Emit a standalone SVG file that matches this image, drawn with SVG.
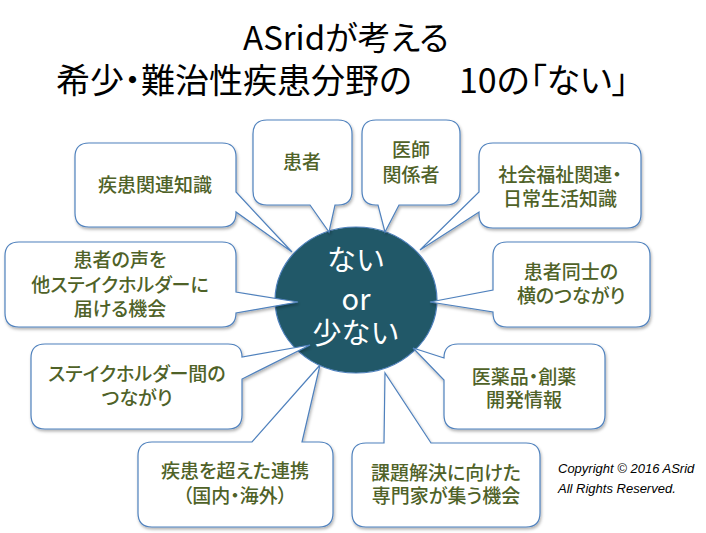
<svg xmlns="http://www.w3.org/2000/svg" width="706" height="533" viewBox="0 0 706 533">
<defs>
<filter id="sh" x="-10%" y="-10%" width="130%" height="130%">
<feDropShadow dx="1" dy="2" stdDeviation="1.5" flood-color="#000" flood-opacity="0.3"/>
</filter>
<style>
.title{font-family:"Noto Sans CJK JP","Noto Sans",sans-serif;font-size:33px;fill:#000;font-feature-settings:"palt"}
.title2{font-size:34px}
.co{fill:#fff;stroke:#4f81bd;stroke-width:1.2;filter:url(#sh)}
.t{font-family:"Noto Sans CJK JP","Noto Sans",sans-serif;font-size:19px;fill:#4f6228;text-anchor:middle;font-weight:500;font-feature-settings:"palt"}
.ct{font-family:"Noto Sans CJK JP","Noto Sans",sans-serif;font-size:29px;fill:#fff;text-anchor:middle}
.cp{font-family:"Liberation Sans",sans-serif;font-size:13px;font-style:italic;fill:#000}
</style>
</defs>
<rect width="706" height="533" fill="#fff"/>
<g id="title">
<text class="title" x="346" y="50" text-anchor="middle">ASridが考える</text>
<text class="title title2" x="56" y="93">希少・難治性疾患分野の</text>
<text class="title title2" x="459" y="93">10の「ない」</text>
</g>
<g id="center">
<ellipse cx="356" cy="300" rx="81" ry="73" fill="#215868" stroke="#4f81bd" stroke-width="1.2"/>
</g>
<g id="connectors">
<g id="n1"><path class="co" d="M89,143 H222 Q236,143 236,157 V192 L292,252 L236,212 V213 Q236,227 222,227 H89 Q75,227 75,213 V157 Q75,143 89,143 Z"/><text class="t" x="155" y="192">疾患関連知識</text></g>
<g id="n2"><path class="co" d="M267,120 H338 Q352,120 352,134 V191 Q352,205 338,205 H335 L329,232 L310,205 H267 Q253,205 253,191 V134 Q253,120 267,120 Z"/><text class="t" x="302" y="169">患者</text></g>
<g id="n3"><path class="co" d="M376,120 H446 Q460,120 460,134 V191 Q460,205 446,205 H399 L385,232 L378,205 H376 Q362,205 362,191 V134 Q362,120 376,120 Z"/><text class="t" x="411" y="157">医師</text><text class="t" x="411" y="182">関係者</text></g>
<g id="n4"><path class="co" d="M493,143 H627 Q641,143 641,157 V214 Q641,228 627,228 H493 Q479,228 479,214 V212 L420,250 L479,192 V157 Q479,143 493,143 Z"/><text class="t" x="560" y="182">社会福祉関連・</text><text class="t" x="560" y="206">日常生活知識</text></g>
<g id="n5"><path class="co" d="M19,242 H222 Q236,242 236,256 V292 L298,302 L236,313 Q236,327 222,327 H19 Q5,327 5,313 V256 Q5,242 19,242 Z"/><text class="t" x="120" y="267">患者の声を</text><text class="t" x="120" y="292">他ステイクホルダーに</text><text class="t" x="120" y="316">届ける機会</text></g>
<g id="n6"><path class="co" d="M507,242 H636 Q650,242 650,256 V313 Q650,327 636,327 H507 Q493,327 493,313 V312 L430,302 L493,290 V256 Q493,242 507,242 Z"/><text class="t" x="571" y="279">患者同士の</text><text class="t" x="571" y="303">横のつながり</text></g>
<g id="n7"><path class="co" d="M45,344 H228 Q242,344 242,357 L310,345 L242,379 V415 Q242,429 228,429 H45 Q31,429 31,415 V358 Q31,344 45,344 Z"/><text class="t" x="137" y="381">ステイクホルダー間の</text><text class="t" x="137" y="405">つながり</text></g>
<g id="n8"><path class="co" d="M458,344 H591 Q605,344 605,358 V415 Q605,429 591,429 H458 Q444,429 444,415 V380 L413,348 L444,358 Q444,344 458,344 Z"/><text class="t" x="524" y="384">医薬品・創薬</text><text class="t" x="524" y="407">開発情報</text></g>
<g id="n9"><path class="co" d="M152,442 H252 L320,365 L302,442 H319 Q333,442 333,456 V513 Q333,527 319,527 H152 Q138,527 138,513 V456 Q138,442 152,442 Z"/><text class="t" x="235" y="478">疾患を超えた連携</text><text class="t" x="235" y="503">（国内・海外）</text></g>
<g id="n10"><path class="co" d="M366,443 H384 L385,373 L431,443 H526 Q540,443 540,457 V513 Q540,527 526,527 H366 Q352,527 352,513 V457 Q352,443 366,443 Z"/><text class="t" x="446" y="480">課題解決に向けた</text><text class="t" x="446" y="503">専門家が集う機会</text></g>
</g>
<g id="center-text">
<text class="ct" x="356" y="271">ない</text>
<text class="ct" x="356" y="310">or</text>
<text class="ct" x="356" y="344">少ない</text>
</g>
<g id="copyright">
<text class="cp" x="558" y="473">Copyright © 2016 ASrid</text>
<text class="cp" x="558" y="493">All Rights Reserved.</text>
</g>
</svg>
